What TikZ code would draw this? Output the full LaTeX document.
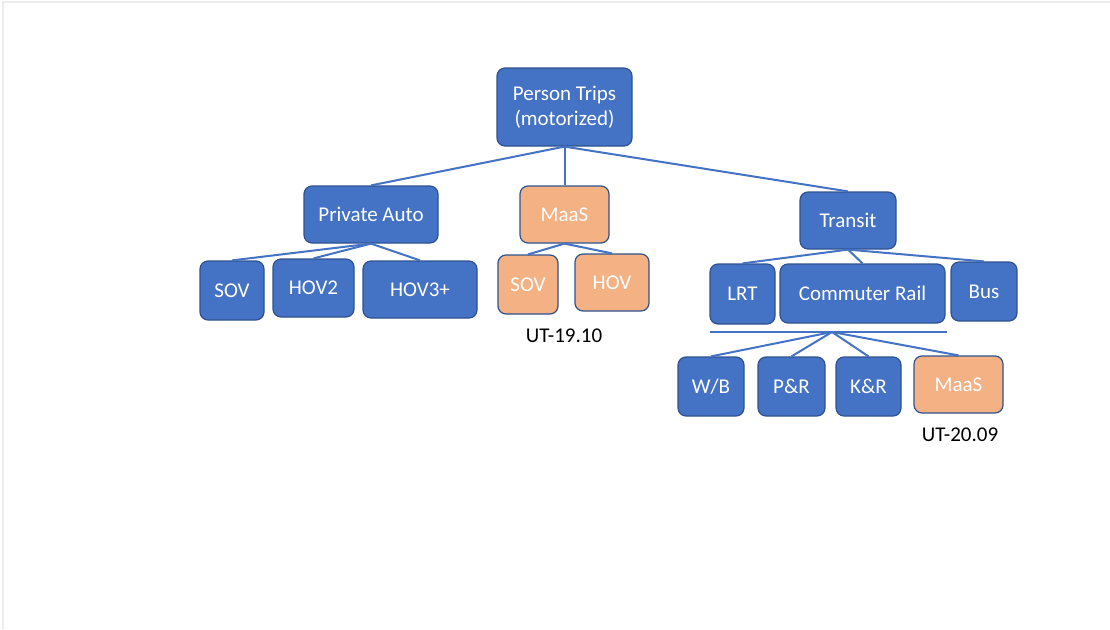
\documentclass[tikz,border=0pt]{standalone}
\usepackage{xcolor}
\usepackage{fontspec}
\setmainfont{Carlito}

\definecolor{azul}{HTML}{4472C4}
\definecolor{borde}{HTML}{2F528F}
\definecolor{naranja}{HTML}{F4B183}

\tikzset{
  modo/.style={draw=borde, fill=azul, line width=1.2pt, rounded corners=8pt,
    text=white, align=center, inner sep=0pt,
    font=\fontsize{21}{25}\selectfont},
  maasbox/.style={modo, fill=naranja},
  rama/.style={draw=azul, line width=2pt},
  nota/.style={font=\fontsize{21}{25}\selectfont, text=black}
}

\begin{document}
\begin{tikzpicture}[x=1pt, y=-1pt]
        % Paso 1: Fija el marco de la figura
        \useasboundingbox (0,0) rectangle (1110,629);
        \draw[gray!15, line width=1.5pt] (3,629) -- (3,2) -- (1110,2);

        % Paso 2: Nodo raíz y primer nivel
        \node[modo, minimum width=135, minimum height=78] (trips) at (564.5,107) {Person Trips\\(motorized)};
        \node[modo, minimum width=134, minimum height=57] (auto) at (371,214.5) {Private Auto};
        \node[maasbox, minimum width=89, minimum height=57] (maas) at (564.5,214.5) {MaaS};
        \node[modo, minimum width=96, minimum height=57] (transit) at (848,220.5) {Transit};

        % Paso 3: Segundo nivel (auto y MaaS)
        \node[modo, minimum width=64, minimum height=59] (sov) at (232,290.5) {SOV};
        \node[modo, minimum width=81, minimum height=58] (hovdos) at (313.5,288) {HOV2};
        \node[modo, minimum width=114, minimum height=57] (hovtres) at (420,289.5) {HOV3+};
        \node[maasbox, minimum width=60, minimum height=59] (msov) at (528,284.5) {SOV};
        \node[maasbox, minimum width=74, minimum height=57] (mhov) at (612,282.5) {HOV};

        % Paso 4: Segundo nivel (transit)
        \node[modo, minimum width=65, minimum height=60] (lrt) at (742.5,294) {LRT};
        \node[modo, minimum width=165, minimum height=59] (rail) at (862.5,293.5) {Commuter Rail};
        \node[modo, minimum width=66, minimum height=59] (bus) at (984,291.5) {Bus};

        % Paso 5: Modos de acceso
        \node[modo, minimum width=66, minimum height=59] (wb) at (711,386.5) {W/B};
        \node[modo, minimum width=67, minimum height=59] (pr) at (791.5,386.5) {P\&R};
        \node[modo, minimum width=65, minimum height=59] (kr) at (868.5,386.5) {K\&R};
        \node[maasbox, minimum width=89, minimum height=57] (amaas) at (958.5,384.5) {MaaS};

        % Paso 6: Etiquetas UT
        \node[nota] (utuno) at (564,336) {UT-19.10};
        \node[nota] (utdos) at (960,435) {UT-20.09};

        % Paso 7: Ramas del árbol
        \foreach \j in {auto,maas,transit} { \draw[rama] (trips.south) -- (\j.north); }
        \foreach \j in {sov,hovdos,hovtres} { \draw[rama] (auto.south) -- (\j.north); }
        \foreach \j in {msov,mhov} { \draw[rama] (maas.south) -- (\j.north); }
        \foreach \j in {lrt,rail,bus} { \draw[rama] (transit.south) -- (\j.north); }

        % Paso 8: Barra bajo el transit y acceso
        \coordinate (barraI) at (710,332);
        \coordinate (barraD) at (947,332);
        \coordinate (nudo) at (832,332);
        \draw[rama] (barraI) -- (barraD);
        \foreach \j in {wb,pr,kr,amaas} { \draw[rama] (nudo) -- (\j.north); }
    \end{tikzpicture}
\end{document}
